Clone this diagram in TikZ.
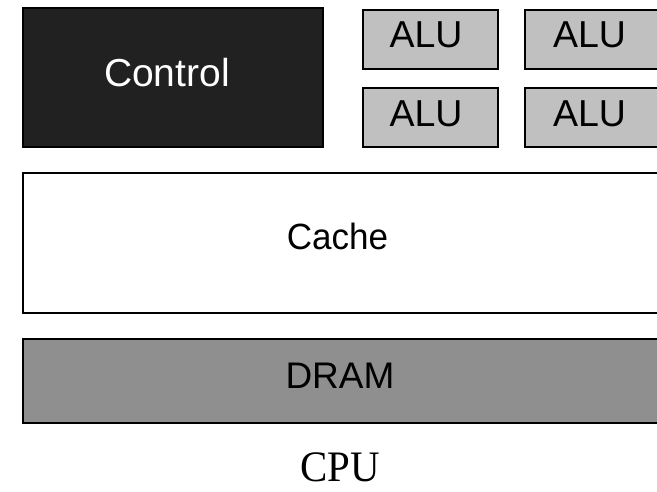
\documentclass[tikz,border=0pt]{standalone}
\usepackage{fontspec}
\setmainfont{Liberation Serif}
\setsansfont{Liberation Sans}
\begin{document}
\begin{tikzpicture}[x=1pt,y=-1pt,
  block/.style={draw=black,line width=2pt,rectangle,inner sep=0pt,anchor=north west},
  label/.style={inner sep=0pt,anchor=base,font=\sffamily\fontsize{39}{45}\selectfont},
  alulabel/.style={label,font=\sffamily\fontsize{37.5}{45}\selectfont},
  memlabel/.style={label,font=\sffamily\fontsize{36.5}{44}\selectfont}]
  \definecolor{ctrlfill}{HTML}{212121}
  \definecolor{alufill}{HTML}{C0C0C0}
  \definecolor{dramfill}{HTML}{8F8F8F}
  \useasboundingbox (0,0) rectangle (657,491);
  \clip (0,0) rectangle (657,491);

  % control unit
  \node[block,fill=ctrlfill,minimum width=300pt,minimum height=139pt] (ctrl) at (22,7) {};
  \node[label,text=white] (ctrltext) at (167,86) {Control};

  % arithmetic units, two by two
  \node[block,fill=alufill,minimum width=135pt,minimum height=59pt] (alu1) at (362,9) {};
  \node[block,fill=alufill,minimum width=135pt,minimum height=59pt] (alu2) at (524,9) {};
  \node[block,fill=alufill,minimum width=135pt,minimum height=59pt] (alu3) at (362,87) {};
  \node[block,fill=alufill,minimum width=135pt,minimum height=59pt] (alu4) at (524,87) {};
  \node[alulabel] (alu1text) at (426,47) {ALU};
  \node[alulabel] (alu2text) at (589.5,47) {ALU};
  \node[alulabel] (alu3text) at (426,126) {ALU};
  \node[alulabel] (alu4text) at (589.5,126) {ALU};

  % cache
  \node[block,fill=white,minimum width=650pt,minimum height=140pt] (cache) at (22,172) {};
  \node[memlabel,xscale=0.96] (cachetext) at (337.5,249) {Cache};

  % main memory
  \node[block,fill=dramfill,minimum width=650pt,minimum height=84pt] (dram) at (22,338) {};
  \node[memlabel,font=\sffamily\fontsize{37}{44}\selectfont] (dramtext) at (340,388) {DRAM};

  % caption
  \node[inner sep=0pt,anchor=base,text depth=0pt,xscale=0.94,font=\rmfamily\fontsize{43.5}{48}\selectfont] (cpu) at (340,481) {CPU};
\end{tikzpicture}
\end{document}
